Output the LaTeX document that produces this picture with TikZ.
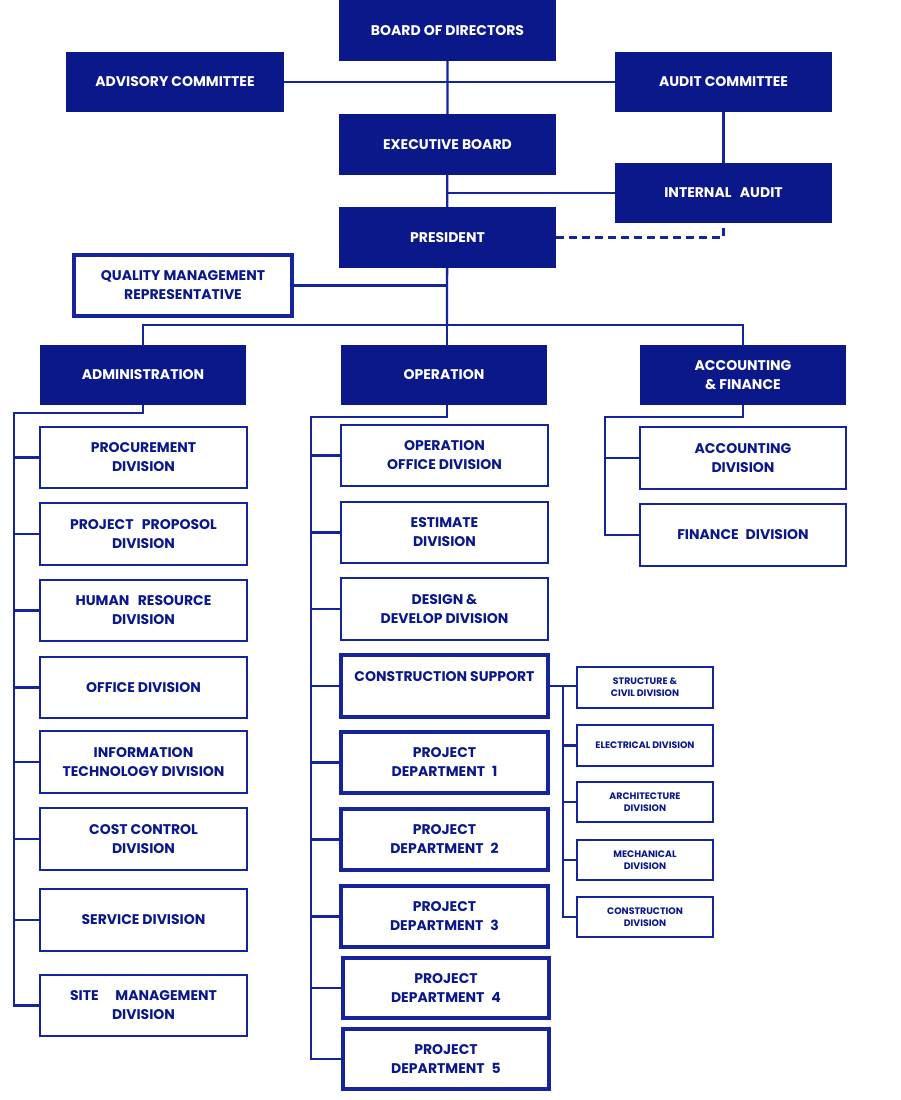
\documentclass[tikz,border=0pt]{standalone}
\usepackage{fontspec}
\setmainfont{Poppins}
\usetikzlibrary{backgrounds}
\definecolor{navy}{RGB}{11,24,138}
\definecolor{lineblue}{RGB}{22,36,156}
\newcommand\mybox[7]{%
  \node[#1, minimum width={(#5-#3)*1pt}, minimum height={(#6-#4)*1pt}] (#2) at ({(#3+#5)/2},{(#4+#6)/2}) {#7};}
\begin{document}
\begin{tikzpicture}[x=1pt,y=-1pt,
  bigfont/.style={font=\bfseries\fontsize{14}{19}\selectfont},
  fbox/.style={fill=navy, text=white, bigfont, align=center, inner sep=0pt},
  obox/.style={draw=lineblue, line width=2.2pt, fill=white, text=navy, bigfont, align=center, inner sep=0pt},
  tbox/.style={obox, line width=3.8pt},
  sbox/.style={obox, line width=2pt, font=\bfseries\fontsize{9.4}{12}\selectfont},
  conn/.style={draw=lineblue, line width=2.3pt}]
\useasboundingbox (0,0) rectangle (900,1100);
% top level
\mybox{fbox}{bod}{339}{0}{556}{61}{BOARD OF DIRECTORS}
\mybox{fbox}{adv}{66}{52}{284}{112}{ADVISORY COMMITTEE}
\mybox{fbox}{aud}{615}{52}{832}{112}{AUDIT COMMITTEE}
\mybox{fbox}{exb}{339}{114}{556}{175}{EXECUTIVE BOARD}
\mybox{fbox}{ia}{615}{163}{832}{223}{INTERNAL\hspace{0.6em}AUDIT}
\mybox{fbox}{pres}{339}{207}{556}{268}{PRESIDENT}
\mybox{tbox}{qmr}{74}{255}{292}{316}{QUALITY MANAGEMENT\\REPRESENTATIVE}
% divisions
\mybox{fbox}{adm}{40}{345}{246}{405}{ADMINISTRATION}
\mybox{fbox}{ope}{341}{345}{547}{405}{OPERATION}
\mybox{fbox}{acc}{640}{345}{846}{405}{ACCOUNTING\\\& FINANCE}
% administration
\mybox{obox}{proc}{40}{427}{247}{488}{PROCUREMENT\\DIVISION}
\mybox{obox}{prop}{40}{503}{247}{565}{PROJECT\hspace{0.6em}PROPOSOL\\DIVISION}
\mybox{obox}{hr}{40}{580}{247}{641}{HUMAN\hspace{0.6em}RESOURCE\\DIVISION}
\mybox{obox}{off}{40}{657}{247}{718}{OFFICE DIVISION}
\mybox{obox}{it}{40}{731}{247}{793}{INFORMATION\\TECHNOLOGY DIVISION}
\mybox{obox}{cost}{40}{808}{247}{870}{COST CONTROL\\DIVISION}
\mybox{obox}{serv}{40}{889}{247}{951}{SERVICE DIVISION}
\mybox{obox}{site}{40}{975}{247}{1036}{SITE\hspace{1.2em}MANAGEMENT\\DIVISION}
% operation
\mybox{obox}{oof}{341}{425}{548}{486}{OPERATION\\OFFICE DIVISION}
\mybox{obox}{est}{341}{502}{548}{563}{ESTIMATE\\DIVISION}
\mybox{obox}{des}{341}{578}{548}{640}{DESIGN \&\\DEVELOP DIVISION}
\mybox{tbox}{cs}{341}{655}{548}{717}{CONSTRUCTION SUPPORT\\\mbox{}}
\mybox{tbox}{pd1}{341}{732}{548}{793}{PROJECT\\DEPARTMENT\hspace{0.5em}1}
\mybox{tbox}{pd2}{341}{809}{548}{870}{PROJECT\\DEPARTMENT\hspace{0.5em}2}
\mybox{tbox}{pd3}{341}{886}{548}{947}{PROJECT\\DEPARTMENT\hspace{0.5em}3}
\mybox{tbox}{pd4}{343}{958}{549}{1018}{PROJECT\\DEPARTMENT\hspace{0.5em}4}
\mybox{tbox}{pd5}{343}{1029}{549}{1089}{PROJECT\\DEPARTMENT\hspace{0.5em}5}
% accounting
\mybox{obox}{accd}{640}{427}{846}{489}{ACCOUNTING\\DIVISION}
\mybox{obox}{fin}{640}{504}{846}{566}{FINANCE\hspace{0.5em}DIVISION}
% construction support sub-divisions
\mybox{sbox}{sc}{577}{667}{713}{708}{STRUCTURE \&\\CIVIL DIVISION}
\mybox{sbox}{el}{577}{725}{713}{766}{ELECTRICAL DIVISION}
\mybox{sbox}{ar}{577}{782}{713}{822}{ARCHITECTURE\\DIVISION}
\mybox{sbox}{me}{577}{840}{713}{880}{MECHANICAL\\DIVISION}
\mybox{sbox}{cd}{577}{897}{713}{937}{CONSTRUCTION\\DIVISION}
% coordinates
\coordinate (busC) at (447,325);
\coordinate (aL) at (14,413);
\coordinate (oL) at (311,417);
\coordinate (cL) at (605,417);
\coordinate (sL) at (563,688);
\begin{pgfonlayer}{background}
\fill[white] (0,0) rectangle (900,1100);
\draw[conn] (bod.south) -- (busC);
\draw[conn] (adv.east) -- (aud.west);
\draw[conn] (aud.south) -- (ia.north);
\draw[conn] (ia.west) -- (ia.west -| busC);
\draw[conn, dash pattern=on 8pt off 5pt] (pres.east) -| (ia.south);
\draw[conn] (qmr.east) -- (qmr.east -| busC);
\draw[conn] (adm.north) |- (busC) -| (acc.north);
\draw[conn] (busC) -- (busC |- ope.north);
% administration bus
\draw[conn] (adm.south) |- (aL) |- (site.west);
\foreach \n in {proc,prop,hr,off,it,cost,serv}{\draw[conn] (aL |- \n.west) -- (\n.west);}
% operation bus
\draw[conn] (busC |- ope.south) |- (oL) |- (pd5.west);
\foreach \n in {oof,est,des,cs,pd1,pd2,pd3,pd4}{\draw[conn] (oL |- \n.west) -- (\n.west);}
% accounting bus
\draw[conn] (acc.south) |- (cL) |- (fin.west);
\draw[conn] (cL |- accd.west) -- (accd.west);
% construction support bus
\draw[conn] (cs.east) -- (cs.east -| sc.west);
\draw[conn] (sL |- cs.east) |- (cd.west);
\foreach \n in {el,ar,me}{\draw[conn] (sL |- \n.west) -- (\n.west);}
\end{pgfonlayer}
\end{tikzpicture}
\end{document}
